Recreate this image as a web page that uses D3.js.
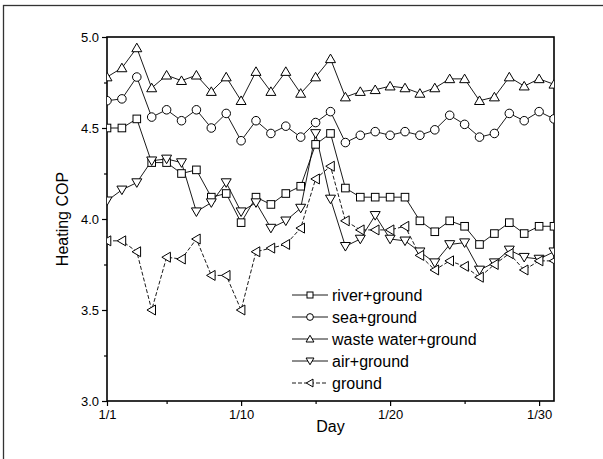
<!DOCTYPE html>
<html>
<head>
<meta charset="utf-8">
<script src="https://cdn.jsdelivr.net/npm/d3@7"></script>
<style>
  body { margin: 0; background: #fff; }
  svg { display: block; font-family: "Liberation Sans", Arial, sans-serif; }
</style>
</head>
<body>
<div id="chart"></div>
<script>
// --- data ---
const days = d3.range(1, 32);
const river = [4.50,4.50,4.55,4.31,4.31,4.25,4.27,4.12,4.14,3.98,4.12,4.08,4.14,4.18,4.41,4.47,4.17,4.12,4.12,4.12,4.12,3.99,3.93,3.99,3.96,3.86,3.92,3.98,3.92,3.96,3.96];
const sea = [4.65,4.66,4.78,4.56,4.60,4.54,4.60,4.50,4.58,4.43,4.54,4.47,4.51,4.45,4.53,4.59,4.42,4.46,4.48,4.46,4.48,4.46,4.49,4.57,4.52,4.45,4.47,4.58,4.54,4.59,4.55];
const waste = [4.78,4.83,4.94,4.72,4.79,4.76,4.79,4.70,4.78,4.65,4.81,4.70,4.81,4.69,4.78,4.88,4.67,4.70,4.71,4.73,4.72,4.69,4.72,4.77,4.77,4.65,4.67,4.78,4.73,4.77,4.74];
const air = [4.10,4.16,4.20,4.32,4.33,4.31,4.04,4.09,4.20,4.04,4.09,3.95,3.99,4.06,4.47,4.11,3.85,3.89,4.02,3.89,3.88,3.82,3.76,3.86,3.87,3.72,3.76,3.83,3.79,3.78,3.82];
const ground = [3.88,3.88,3.82,3.50,3.79,3.78,3.89,3.69,3.69,3.50,3.82,3.84,3.86,3.95,4.22,4.29,3.99,3.94,3.94,3.94,3.96,3.80,3.72,3.77,3.74,3.68,3.75,3.81,3.72,3.77,3.77];

const seriesNames = ["river+ground", "sea+ground", "waste water+ground", "air+ground", "ground"];
const seriesValues = [river, sea, waste, air, ground];
const seriesSymbols = ["square", "circle", "up", "down", "left"];
const seriesDash = [null, null, null, null, "4,2"];

const xTicks = [1, 10, 20, 30];
const xTickLabels = ["1/1", "1/10", "1/20", "1/30"];
const yTicks = [3.0, 3.5, 4.0, 4.5, 5.0];

const width = 603, height = 459;
const margin = { top: 37, right: 49, bottom: 58, left: 107 };
const innerW = width - margin.left - margin.right;
const innerH = height - margin.top - margin.bottom;

const svg = d3.select("#chart").append("svg")
    .attr("width", width)
    .attr("height", height);

// outer frame of the figure
svg.append("rect")
    .attr("x", 3.5).attr("y", 5.5)
    .attr("width", 620).attr("height", 480)
    .attr("fill", "none").attr("stroke", "#333").attr("stroke-width", 1.3);

const x = d3.scaleLinear().domain([1, 31]).range([0, innerW]);
const y = d3.scaleLinear().domain([3, 5]).range([innerH, 0]);

const g = svg.append("g").attr("transform", `translate(${margin.left},${margin.top})`);

g.append("clipPath").attr("id", "plot-clip")
    .append("rect").attr("width", innerW).attr("height", innerH);

// --- axes ---
const xAxis = d3.axisBottom(x).tickValues(xTicks).tickFormat((d, i) => xTickLabels[i]).tickSize(5).tickPadding(4);
const xMinor = d3.axisBottom(x).tickValues([5, 15, 25]).tickFormat("").tickSize(3);
const yAxis = d3.axisLeft(y).tickValues(yTicks).tickFormat(d3.format(".1f")).tickSize(5).tickPadding(3);
const yMinor = d3.axisLeft(y).tickValues([3.25, 3.75, 4.25, 4.75]).tickFormat("").tickSize(3);

function styleAxis(sel) {
    sel.select(".domain").remove();
    sel.selectAll("line").attr("stroke", "#000").attr("stroke-width", 1.2);
    sel.selectAll("text").attr("fill", "#000").style("font-size", "13px");
}

g.append("g").attr("transform", `translate(0,${innerH})`).call(xAxis).call(styleAxis);
g.append("g").attr("transform", `translate(0,${innerH})`).call(xMinor).call(styleAxis);
g.append("g").call(yAxis).call(styleAxis);
g.append("g").call(yMinor).call(styleAxis);

// plot frame
g.append("rect")
    .attr("width", innerW).attr("height", innerH)
    .attr("fill", "none").attr("stroke", "#000").attr("stroke-width", 1.6);

// axis titles
svg.append("text")
    .attr("x", margin.left + innerW / 2).attr("y", 432)
    .attr("text-anchor", "middle")
    .style("font-size", "16px")
    .text("Day");

svg.append("text")
    .attr("transform", `translate(68,${margin.top + innerH / 2}) rotate(-90)`)
    .attr("text-anchor", "middle")
    .style("font-size", "16px")
    .text("Heating COP");

// --- markers ---
function drawSymbol(sel, kind, s) {
    const h = s / 2;
    if (kind === "square") {
        sel.append("rect").attr("x", -h * 0.8).attr("y", -h * 0.8).attr("width", s * 0.8).attr("height", s * 0.8);
    } else if (kind === "circle") {
        sel.append("circle").attr("r", h * 0.9);
    } else {
        let pts;
        if (kind === "up") pts = [[0, -h * 1.0], [h * 1.05, h * 0.8], [-h * 1.05, h * 0.8]];
        else if (kind === "down") pts = [[0, h * 1.0], [h * 1.05, -h * 0.8], [-h * 1.05, -h * 0.8]];
        else pts = [[-h * 1.0, 0], [h * 0.8, -h * 1.05], [h * 0.8, h * 1.05]];
        sel.append("polygon").attr("points", pts.map(p => p.join(",")).join(" "));
    }
    sel.selectAll("*").attr("fill", "#fff").attr("stroke", "#000").attr("stroke-width", 1);
}

const plot = g.append("g").attr("clip-path", "url(#plot-clip)");

const line = d3.line().x((d, i) => x(days[i])).y(d => y(d));

seriesValues.forEach((vals, k) => {
    plot.append("path")
        .datum(vals)
        .attr("d", line)
        .attr("fill", "none")
        .attr("stroke", "#000")
        .attr("stroke-width", 0.9)
        .attr("stroke-dasharray", seriesDash[k]);
});

seriesValues.forEach((vals, k) => {
    plot.selectAll(null)
        .data(vals)
        .enter().append("g")
        .attr("transform", (d, i) => `translate(${x(days[i])},${y(d)})`)
        .each(function () { drawSymbol(d3.select(this), seriesSymbols[k], 9.5); });
});

// --- legend ---
const legend = svg.append("g").attr("transform", "translate(292,295)");
seriesNames.forEach((name, k) => {
    const row = legend.append("g").attr("transform", `translate(0,${k * 22})`);
    row.append("line")
        .attr("x1", 0).attr("x2", 36)
        .attr("stroke", "#000").attr("stroke-width", 0.9)
        .attr("stroke-dasharray", seriesDash[k]);
    const m = row.append("g").attr("transform", "translate(18,0)");
    drawSymbol(m, seriesSymbols[k], 7.5);
    row.append("text")
        .attr("x", 40).attr("dy", "0.35em")
        .style("font-size", "16px")
        .text(name);
});
</script>
</body>
</html>
